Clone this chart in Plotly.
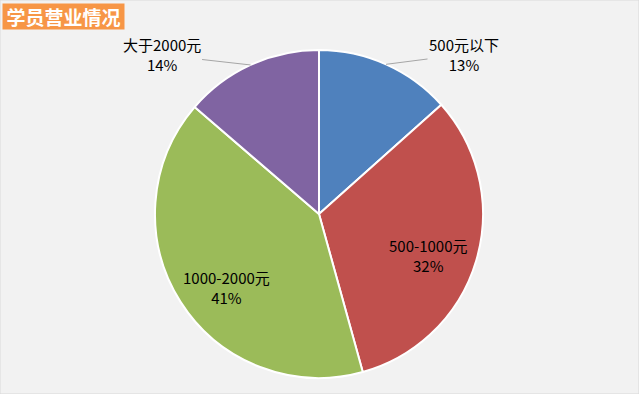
import math
import plotly.graph_objects as go

categories = ["500元以下", "500-1000元", "1000-2000元", "大于2000元"]
values = [13.4, 32.3, 40.6, 13.7]
pct_labels = ["13%", "32%", "41%", "14%"]
colors = ["#4f81bd", "#c0504d", "#9bbb59", "#8064a2"]

W, H = 639, 394
CX, CY, R = 319, 214, 164  # pie centre / radius in pixels

# label layout: (kind, dx, dy) offsets in px
label_layout = [
    ("outside", 78, -10),
    ("inside", 428, 255),
    ("inside", 226, 287),
    ("outside", -89, -10),
]

fig = go.Figure(go.Pie(
    labels=categories,
    values=values,
    textinfo="none",
    sort=False,
    direction="clockwise",
    rotation=0,
    marker=dict(colors=colors, line=dict(color="white", width=2)),
    domain=dict(x=[(CX - R) / W, (CX + R) / W], y=[1 - (CY + R) / H, 1 - (CY - R) / H]),
    showlegend=False,
    hoverinfo="label+percent",
))

annotations = []
total = sum(values)
cum = 0.0
font = dict(family="Noto Sans CJK SC, Microsoft YaHei", size=15, color="#000000")
for cat, v, p, (kind, a, b) in zip(categories, values, pct_labels, label_layout):
    mid = (cum + v / 2) / total * 2 * math.pi
    cum += v
    txt = f"{cat}<br>{p}"
    if kind == "outside":
        ex = CX + R * math.sin(mid)
        ey = CY - R * math.cos(mid)
        annotations.append(dict(
            text=txt, x=ex / W, y=1 - ey / H, xref="paper", yref="paper",
            showarrow=True, arrowhead=0, arrowwidth=1, arrowcolor="#a6a6a6",
            ax=a, ay=b, font=font, align="center", standoff=0,
        ))
    else:
        annotations.append(dict(
            text=txt, x=a / W, y=1 - b / H, xref="paper", yref="paper",
            showarrow=False, font=font, align="center",
            xanchor="center", yanchor="middle",
        ))

annotations.append(dict(
    text="<b>学员营业情况</b>", x=2 / W, y=1 - 3 / H, xref="paper", yref="paper",
    xanchor="left", yanchor="top", showarrow=False,
    font=dict(family="Noto Sans CJK SC, Microsoft YaHei", size=19, color="white"),
    bgcolor="#f79646", borderpad=0, width=121, height=25,
))

fig.update_layout(
    width=W, height=H,
    margin=dict(l=0, r=0, t=0, b=0),
    paper_bgcolor="#f2f2f2",
    plot_bgcolor="#f2f2f2",
    font=dict(family="Noto Sans CJK SC"),
    annotations=annotations,
    shapes=[dict(type="rect", xref="paper", yref="paper", x0=0, y0=0, x1=1, y1=1,
                 line=dict(color="#d9d9d9", width=1))],
)

fig.write_html("out.html", config={"displayModeBar": False},
               post_script="document.body.style.margin='0';")
